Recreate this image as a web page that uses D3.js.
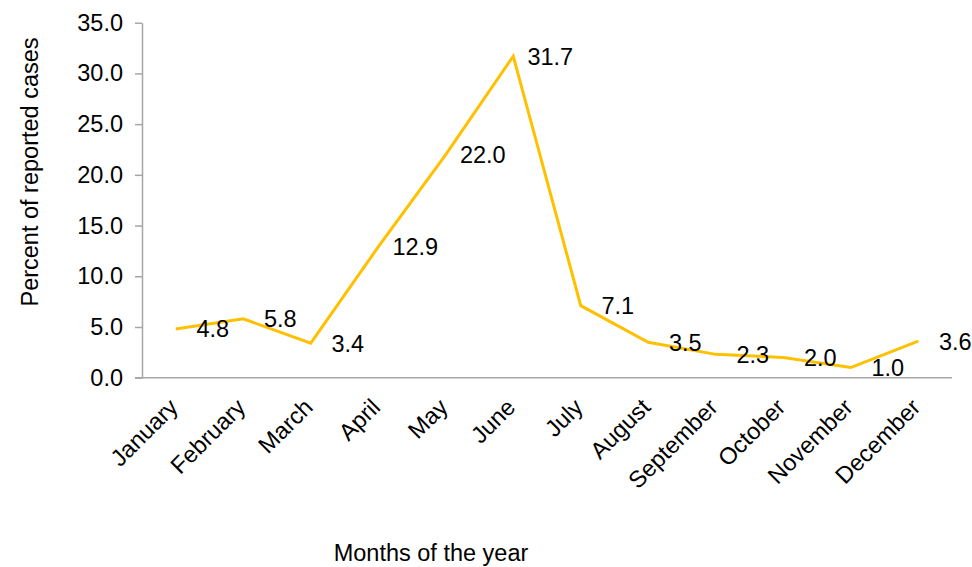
<!DOCTYPE html>
<html>
<head>
    <title>Percent of reported cases by month</title>
    <script src="https://d3js.org/d3.v7.min.js"></script>
    <style>
        body { margin: 0; background: #fff; }
        text { font-family: "Liberation Sans", Arial, sans-serif; fill: #000; }
        .axis path, .axis line { stroke: #a6a6a6; stroke-width: 1.5px; }
    </style>
</head>
<body>
    <script>
        // Data
        const months = ["January", "February", "March", "April", "May", "June",
                        "July", "August", "September", "October", "November", "December"];
        const percents = [4.8, 5.8, 3.4, 12.9, 22.0, 31.7, 7.1, 3.5, 2.3, 2.0, 1.0, 3.6];
        const yTicks = [0, 5, 10, 15, 20, 25, 30, 35];

        const W = 972, H = 567;
        const plotLeft = 142, plotRight = 952, plotTop = 22.7, plotBottom = 377.7;
        const fs = "23.5px";

        const svg = d3.select("body")
            .append("svg")
            .attr("width", W)
            .attr("height", H);

        const x = d3.scalePoint()
            .domain(months)
            .range([plotLeft, plotRight])
            .padding(0.5);

        const y = d3.scaleLinear()
            .domain([0, 35])
            .range([plotBottom, plotTop]);

        // y axis
        const yAxis = svg.append("g")
            .attr("class", "axis")
            .attr("transform", `translate(${plotLeft},0)`)
            .call(d3.axisLeft(y).tickValues(yTicks).tickFormat(d3.format(".1f"))
                .tickSize(7).tickSizeOuter(0).tickPadding(12));
        yAxis.selectAll("text").style("font-size", fs);

        // x axis
        const xAxis = svg.append("g")
            .attr("class", "axis")
            .attr("transform", `translate(0,${plotBottom})`)
            .call(d3.axisBottom(x).tickSize(0).tickSizeOuter(0));
        xAxis.select(".domain").attr("d", `M${plotLeft - 7},0H${plotRight}`);
        xAxis.selectAll(".tick text")
            .style("font-size", fs)
            .attr("text-anchor", "end")
            .attr("dy", null)
            .attr("y", 0)
            .attr("transform", "translate(3,31) rotate(-45)");

        // line
        const line = d3.line()
            .x((d, i) => x(months[i]))
            .y(d => y(d));

        svg.append("path")
            .datum(percents)
            .attr("fill", "none")
            .attr("stroke", "#ffc000")
            .attr("stroke-width", 3)
            .attr("stroke-linejoin", "miter")
            .attr("d", line);

        // data labels to the right of each point
        svg.append("g")
            .selectAll("text")
            .data(percents)
            .join("text")
            .attr("x", (d, i) => x(months[i]) + 37)
            .attr("y", d => y(d))
            .attr("dy", "0.36em")
            .attr("text-anchor", "middle")
            .style("font-size", fs)
            .text(d => d.toFixed(1));

        // axis titles
        svg.append("text")
            .attr("transform", "translate(30,172) rotate(-90)")
            .attr("text-anchor", "middle")
            .attr("dy", "0.35em")
            .style("font-size", fs)
            .text("Percent of reported cases");

        svg.append("text")
            .attr("x", 431)
            .attr("y", 561)
            .attr("text-anchor", "middle")
            .style("font-size", fs)
            .text("Months of the year");
    </script>
</body>
</html>
